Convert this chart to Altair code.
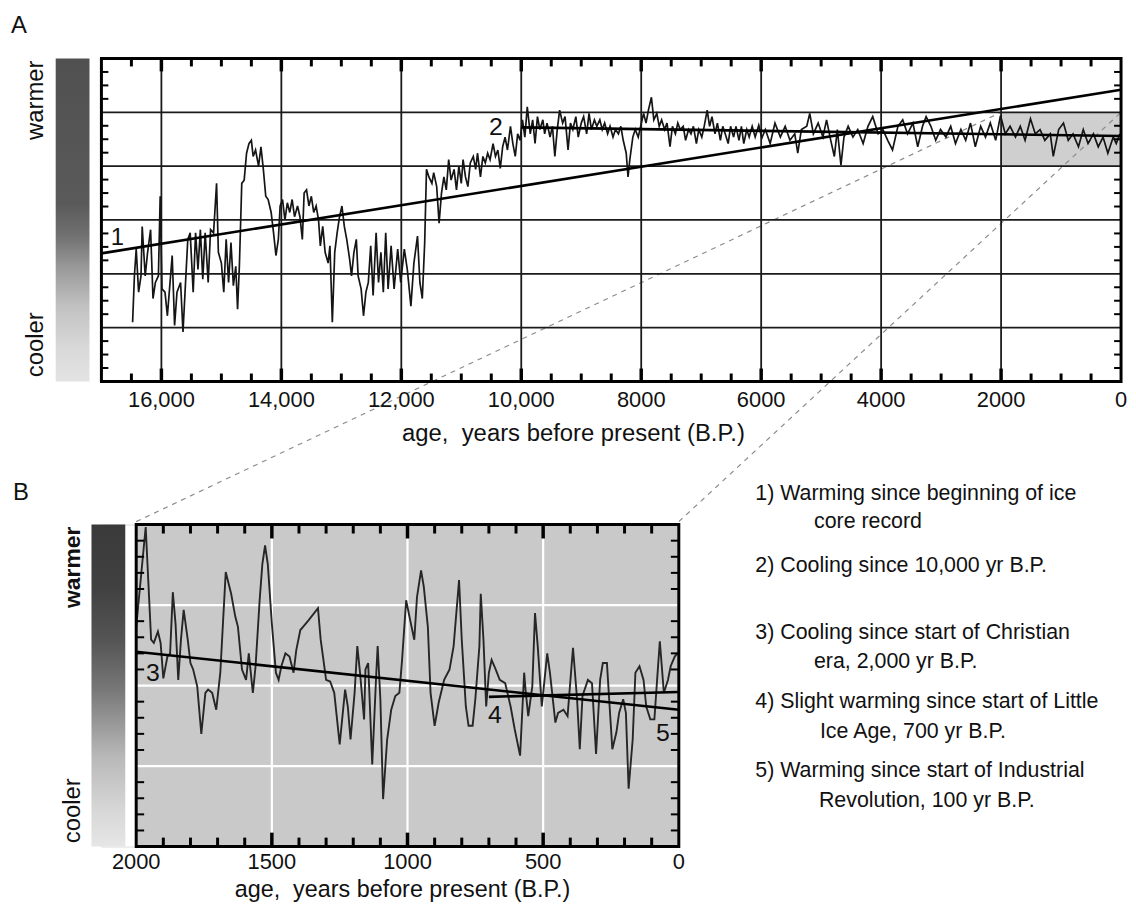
import altair as alt
import pandas as pd
import numpy as np

# ---------------- Panel A: ice-core temperature (deg C) vs age (yr B.P.) ----------------
a_age = [16480, 16450, 16420, 16380, 16340, 16320, 16270, 16230, 16180, 16140, 16100, 16050, 16020, 15990,
         15940, 15900, 15860, 15820, 15780, 15740, 15680, 15640, 15600, 15560, 15520, 15470, 15430, 15390,
         15350, 15310, 15270, 15220, 15180, 15130, 15080, 15050, 15000, 14960, 14920, 14880, 14840, 14800,
         14760, 14730, 14700, 14660, 14620, 14580, 14540, 14500, 14470, 14430, 14380, 14340, 14300, 14260,
         14220, 14170, 14130, 14090, 14050, 14020, 13980, 13940, 13900, 13860, 13820, 13780, 13730, 13690,
         13650, 13620, 13580, 13540, 13500, 13460, 13420, 13380, 13350, 13310, 13270, 13220, 13190, 13150,
         13110, 13070, 13030, 12990, 12950, 12910, 12860, 12830, 12790, 12750, 12720, 12670, 12630, 12590,
         12550, 12510, 12470, 12420, 12380, 12340, 12300, 12260, 12220, 12170, 12120,
         12060, 12010, 11950, 11900, 11840, 11790, 11730, 11690, 11650, 11610, 11580, 11540, 11490, 11460,
         11410, 11370, 11330, 11290, 11250, 11210, 11170, 11120, 11080, 11040, 11000, 10970, 10930, 10890,
         10850, 10800, 10760, 10730, 10680, 10640, 10600, 10560, 10520, 10470, 10430, 10390, 10350, 10310,
         10270, 10230, 10180, 10140, 10100, 10060, 10020, 9980, 9940, 9900, 9850, 9810, 9770, 9730, 9690,
         9640, 9610, 9570, 9520, 9480, 9440, 9400, 9360, 9310, 9270, 9220, 9180, 9140, 9090, 9050, 9000,
         8960, 8910, 8870, 8830, 8780, 8740, 8690, 8650, 8610, 8560, 8520, 8470, 8430, 8380, 8340, 8300,
         8250, 8220, 8190, 8140, 8100, 8050, 8010, 7960, 7920, 7880, 7830, 7790, 7740, 7700, 7660, 7610,
         7570, 7520, 7480, 7430, 7390, 7350, 7300, 7260, 7210, 7170, 7130, 7080, 7040, 6990, 6950, 6900,
         6860, 6820, 6770, 6730, 6680, 6640, 6600, 6550, 6510, 6460, 6420, 6370, 6330, 6290, 6240, 6200,
         6150, 6100, 6040, 5990,
         5930, 5850, 5770, 5680, 5600, 5520, 5440, 5390, 5330, 5240, 5190, 5130, 5050, 4970, 4910, 4840,
         4780, 4730, 4670, 4620, 4550, 4470, 4390, 4300, 4220, 4140, 4050, 3970, 3890, 3810, 3720, 3640,
         3560, 3470, 3390, 3310, 3250, 3170, 3090, 3010, 2920, 2840, 2760, 2670, 2590, 2510, 2430, 2340,
         2260, 2180, 2090, 2010, 1930, 1850, 1760, 1680, 1600, 1510, 1430, 1350, 1270, 1180, 1130, 1040,
         960, 880, 800, 710, 630, 550, 460, 380, 300, 220, 130, 80, 20]
a_temp = [-49.5, -45.2, -42.7, -46.7, -45.2, -40.6, -45.2, -43.0, -40.9, -47.3, -45.8, -45.2, -37.8, -46.4,
          -46.7, -48.9, -46.1, -43.3, -49.8, -46.7, -45.8, -50.4, -46.1, -41.8, -41.2, -46.7, -41.2, -44.6,
          -40.9, -45.5, -41.2, -45.8, -40.9, -41.2, -36.6, -43.0, -44.0, -46.7, -41.8, -45.8, -42.1, -46.1,
          -44.3, -48.3, -44.3, -36.6, -36.3, -33.8, -32.9, -32.6, -34.1, -33.5, -35.0, -33.2, -35.3, -37.8,
          -38.1, -39.3, -41.2, -43.3, -41.8, -38.7, -38.1, -40.0, -38.4, -39.3, -38.1, -39.7, -38.7, -39.7,
          -41.8, -37.5, -37.2, -38.7, -37.8, -39.3, -38.7, -40.0, -42.4, -40.6, -43.0, -44.0, -42.4, -49.5,
          -43.0, -41.2, -39.7, -38.7, -40.6, -41.8, -43.7, -45.2, -43.0, -41.8, -45.2, -46.4, -48.9, -46.7,
          -45.8, -42.4, -47.0, -41.2, -45.8, -43.0, -46.7, -41.2, -46.4, -42.4, -46.4,
          -42.7, -45.8, -42.7, -44.6, -48.0, -44.0, -41.5, -45.8, -47.3, -42.1, -35.3, -36.0, -36.6, -35.6,
          -36.9, -40.3, -37.5, -36.0, -37.2, -34.4, -36.3, -35.3, -37.2, -35.0, -36.6, -34.4, -36.0, -36.9,
          -34.7, -34.1, -35.3, -33.8, -36.0, -34.1, -34.7, -33.8, -34.4, -32.9, -34.1, -33.5, -35.2, -33.2,
          -32.3, -33.5, -31.3, -32.9, -34.1, -32.0, -32.6, -30.7, -32.3, -29.5, -32.0, -30.7, -32.9, -30.4, -31.6,
          -30.7, -32.0, -31.0, -32.3, -31.3, -34.1, -31.6, -29.8, -31.0, -30.4, -33.5, -31.0, -31.6, -30.4, -32.3, -31.0,
          -30.4, -32.0, -30.1, -31.6, -30.7, -31.3, -30.7, -31.6, -31.0, -32.0, -31.3, -32.3, -31.6, -32.0, -31.3, -32.6,
          -33.8, -36.0, -34.4, -32.3, -31.6, -32.3, -31.3, -30.1, -31.0, -29.8, -28.6, -30.7, -30.1, -31.3, -30.7, -31.6,
          -31.0, -33.2, -31.3, -32.0, -31.0, -31.6, -31.3, -32.6, -31.6, -32.0, -31.3, -32.9, -31.6, -32.3, -31.3, -29.8,
          -31.3, -30.4, -32.0, -31.0, -32.6, -31.3, -32.0, -32.9, -31.3, -32.3, -31.3, -32.6, -31.3, -32.9, -31.6, -32.3,
          -31.3, -32.3, -31.2, -32.4,
          -31.6, -32.9, -31.0, -32.3, -31.3, -32.6, -32.0, -33.8, -31.6, -31.3, -30.1, -32.0, -31.0, -32.3, -30.7, -32.6,
          -34.1, -31.6, -34.9, -32.3, -31.3, -32.3, -31.6, -32.9, -31.3, -30.4, -32.0, -31.6, -32.6, -33.5, -31.3, -30.7,
          -32.0, -31.0, -33.2, -31.3, -30.4, -31.3, -32.6, -31.6, -32.3, -31.3, -32.9, -31.6, -32.6, -31.0, -33.2, -31.3,
          -32.3, -31.0, -32.6, -30.3, -32.0, -31.3, -32.3, -31.3, -32.6, -30.6, -32.0, -31.6, -32.6, -32.0, -34.1, -31.6,
          -31.0, -32.6, -32.0, -33.2, -31.6, -32.9, -32.0, -33.2, -32.3, -33.8, -32.3, -32.9, -32.0]

trend1_age = [17000, 0]        # 1) warming since beginning of record
trend1_temp = [-43.1, -27.9]
trend2_age = [10000, 0]        # 2) cooling since 10,000 yr B.P.
trend2_temp = [-31.4, -32.2]

a_xlabels = [16000, 14000, 12000, 10000, 8000, 6000, 4000, 2000, 0]
a_xlabel_text = ["16,000", "14,000", "12,000", "10,000", "8000", "6000", "4000", "2000", "0"]
a_grid_x = [16000, 14000, 12000, 10000, 8000, 6000, 4000, 2000]
a_grid_y = [-50, -45, -40, -35, -30]
a_tick_minor_x = [v for v in range(500, 17000, 500) if v % 2000]
a_tick_y = [v for v in np.arange(-53.75, -25.0, 1.25) if v % 5]
zoom_box = {"x": [2000], "x2": [0], "y": [-35], "y2": [-30]}

# ---------------- Panel B: last 2000 years ----------------
b_age = [2000, 1965, 1945, 1935, 1920, 1910, 1900, 1885, 1875, 1865, 1855, 1845, 1835, 1825, 1810, 1800,
         1790, 1775, 1760, 1745, 1735, 1720, 1705, 1690, 1670, 1650, 1635, 1625, 1610, 1595, 1585, 1570,
         1560, 1545, 1535, 1525, 1515, 1500, 1485, 1475, 1465, 1450, 1435, 1420, 1410, 1395, 1385, 1365,
         1330, 1320, 1300, 1285, 1270, 1250, 1230, 1220, 1210, 1195, 1185, 1175, 1160, 1155, 1145, 1130,
         1115, 1110, 1100, 1090, 1075, 1060, 1045, 1030, 1020, 1005, 990, 975, 965, 950, 940, 925, 915,
         900, 885, 865, 845, 830, 810, 800, 785, 775, 760, 750, 735, 730, 720, 710, 700, 690, 675, 660,
         640, 620, 605, 585, 570, 565, 555, 540, 530, 520, 505, 485, 475, 455, 445, 425, 410, 390, 375,
         365, 355, 335, 320, 305, 290, 280, 265, 255, 245, 230, 220, 205, 195, 185, 170, 160, 145, 130,
         120, 105, 90, 80, 70, 55, 40, 30, 15, 5]
b_temp = [-31.27, -30.03, -31.43, -31.47, -31.33, -31.47, -31.91, -31.64, -31.60, -30.84, -31.23, -31.93,
          -31.43, -31.06, -31.43, -31.72, -31.80, -32.01, -32.60, -32.09, -32.05, -32.09, -32.30, -31.84,
          -30.59, -30.86, -31.14, -31.27, -31.80, -31.93, -31.60, -32.09, -31.76, -30.94, -30.49, -30.26,
          -30.49, -31.23, -31.84, -31.93, -31.76, -31.60, -31.64, -31.84, -31.56, -31.31, -31.27, -31.19,
          -31.04, -31.43, -31.93, -31.95, -32.09, -32.73, -32.05, -32.26, -32.67, -32.09, -31.51, -31.84,
          -32.42, -31.80, -31.72, -32.98, -31.84, -31.51, -32.17, -33.41, -32.67, -32.30, -32.13, -32.09,
          -31.68, -30.94, -31.19, -31.43, -30.90, -30.57, -30.77, -31.27, -32.09, -32.50, -32.21, -31.93,
          -31.80, -31.51, -30.69, -31.43, -32.26, -32.50, -32.50, -32.17, -31.51, -30.86, -31.43, -32.26,
          -31.84, -31.68, -31.80, -31.93, -31.97, -32.26, -32.54, -32.87, -31.84, -32.05, -32.38, -32.01,
          -31.10, -31.51, -32.26, -31.60, -31.84, -32.46, -32.34, -32.30, -32.38, -31.53, -32.17, -32.79,
          -32.13, -31.93, -31.97, -32.85, -31.93, -31.72, -31.72, -32.26, -32.79, -32.58, -32.34, -32.17,
          -32.34, -33.28, -32.67, -31.84, -31.76, -31.93, -32.26, -32.42, -32.42, -31.93, -31.45, -32.09,
          -31.93, -31.76, -31.64, -31.60]

trend3_age = [2000, 0]         # 3) cooling since start of Christian era
trend3_temp = [-31.58, -32.30]
trend4_age = [700, 0]          # 4) slight warming since start of Little Ice Age
trend4_temp = [-32.14, -32.08]

b_xlabels = [2000, 1500, 1000, 500, 0]
b_xlabel_text = ["2000", "1500", "1000", "500", "0"]
b_grid_x = [1500, 1000, 500]
b_grid_y = [-33, -32, -31]
b_tick_minor_x = [v for v in range(100, 2000, 100) if v % 500]
b_tick_y = [round(v, 1) for v in np.arange(-33.8, -30.0, 0.2) if abs(v - round(v)) > 0.05]

notes = [
    ("1) Warming since beginning of ice", 0, -31),
    ("core record", 59, -3),
    ("2) Cooling since 10,000 yr B.P.", 0, 42),
    ("3) Cooling since start of Christian", 0, 109),
    ("era, 2,000 yr B.P.", 59, 138),
    ("4) Slight warming since start of Little", 0, 179),
    ("Ice Age, 700 yr B.P.", 65, 209),
    ("5) Warming since start of Industrial", 0, 248),
    ("Revolution, 100 yr B.P.", 64, 278),
]
x_title = "age,\u00a0 years before present (B.P.)"

# ---------------- layout / style ----------------
FONT = "Liberation Sans, Arial, Helvetica, sans-serif"
INK = "#111111"
A_W, A_H = 1026, 325
B_W, B_H = 546, 324
GAP = 144
B_OFF = 35
NOTE_X = 623

xa = alt.Scale(domain=[0, 17000], reverse=True, nice=False, zero=False)
ya = alt.Scale(domain=[-55, -25], nice=False, zero=False)
xb = alt.Scale(domain=[0, 2000], reverse=True, nice=False, zero=False)
yb = alt.Scale(domain=[-34, -30], nice=False, zero=False)

one = pd.DataFrame({"a": [0]})


def ptext(txt, x, y, size, font=FONT, angle=0, weight="normal", align="center"):
    return alt.Chart(pd.DataFrame({"t": [txt]})).mark_text(
        fontSize=size, font=font, angle=angle, fontWeight=weight, align=align,
        baseline="middle", color=INK).encode(x=alt.value(x), y=alt.value(y), text="t:N")


def dtext(txt, xv, yv, xs, ys, size):
    return alt.Chart(pd.DataFrame({"t": [txt], "x": [xv], "y": [yv]})).mark_text(
        fontSize=size, font=FONT, align="center", baseline="middle", color=INK).encode(
        x=alt.X("x:Q", scale=xs, axis=None), y=alt.Y("y:Q", scale=ys, axis=None), text="t:N")


def xlabels(vals, texts, xs, y, size):
    df = pd.DataFrame({"v": vals, "t": texts})
    return alt.Chart(df).mark_text(font=FONT, fontSize=size, color=INK, align="center",
                                   baseline="middle").encode(
        x=alt.X("v:Q", scale=xs, axis=None), y=alt.value(y), text="t:N")


def gbar(x0, x1, stops):
    grad = {"gradient": "linear", "x1": 0, "y1": 0, "x2": 0, "y2": 1,
            "stops": [{"offset": o, "color": c} for o, c in stops]}
    return alt.Chart(one).mark_rect(fill=grad).encode(
        x=alt.value(x0), x2=alt.value(x1), y=alt.value(0), y2=alt.value("height"))


def vrules(vals, xs, color, width):
    return alt.Chart(pd.DataFrame({"v": vals})).mark_rule(color=color, strokeWidth=width).encode(
        x=alt.X("v:Q", scale=xs, axis=None))


def hrules(vals, ys, color, width):
    return alt.Chart(pd.DataFrame({"v": vals})).mark_rule(color=color, strokeWidth=width).encode(
        y=alt.Y("v:Q", scale=ys, axis=None))


def xticks(vals, xs, h, length, width):
    df = pd.DataFrame({"v": vals})
    top = alt.Chart(df).mark_rule(color="black", strokeWidth=width).encode(
        x=alt.X("v:Q", scale=xs, axis=None), y=alt.value(0), y2=alt.value(length))
    bot = alt.Chart(df).mark_rule(color="black", strokeWidth=width).encode(
        x=alt.X("v:Q", scale=xs, axis=None), y=alt.value(h - length), y2=alt.value(h))
    return [top, bot]


def yticks(vals, ys, w, length, width):
    df = pd.DataFrame({"v": vals})
    left = alt.Chart(df).mark_rule(color="black", strokeWidth=width).encode(
        y=alt.Y("v:Q", scale=ys, axis=None), x=alt.value(0), x2=alt.value(length))
    right = alt.Chart(df).mark_rule(color="black", strokeWidth=width).encode(
        y=alt.Y("v:Q", scale=ys, axis=None), x=alt.value(w - length), x2=alt.value(w))
    return [left, right]


def frame():
    return alt.Chart(one).mark_rect(fillOpacity=0, stroke="black", strokeWidth=3).encode(
        x=alt.value(0), x2=alt.value("width"), y=alt.value(0), y2=alt.value("height"))


def line(xv, yv, xs, ys, color, width):
    df = pd.DataFrame({"x": xv, "y": yv})
    return alt.Chart(df).mark_line(color=color, strokeWidth=width).encode(
        x=alt.X("x:Q", scale=xs, axis=None), y=alt.Y("y:Q", scale=ys, axis=None))


# connector (zoom) lines: top corners of the grey box -> top corners of panel B, in A's data units
def a_inv_x(px):
    return 17000 - px / A_W * 17000


def a_inv_y(py):
    return -25 - py / A_H * 30


B_TOP = A_H + GAP - 3   # measured offset of the lower row under the flush layout
conn = pd.DataFrame({
    "x": [2000, a_inv_x(B_OFF), 0, a_inv_x(B_OFF + B_W)],
    "y": [-30, a_inv_y(B_TOP), -30, a_inv_y(B_TOP)],
    "g": ["l", "l", "r", "r"],
})
connectors = alt.Chart(conn).mark_line(color="#8c8c8c", strokeWidth=1.2, strokeDash=[5, 5]).encode(
    x=alt.X("x:Q", scale=xa, axis=None), y=alt.Y("y:Q", scale=ya, axis=None), detail="g:N")

box = alt.Chart(pd.DataFrame(zoom_box)).mark_rect(color="#cfcfcf").encode(
    x=alt.X("x:Q", scale=xa, axis=None), x2="x2:Q",
    y=alt.Y("y:Q", scale=ya, axis=None), y2="y2:Q")

stops_a = [(0, "#505050"), (0.45, "#5a5a5a"), (0.55, "#717171"), (0.65, "#9a9a9a"),
           (0.77, "#c2c2c2"), (0.9, "#d9d9d9"), (1, "#e3e3e3")]
stops_b = [(0, "#3a3a3a"), (0.2, "#414141"), (0.36, "#555555"), (0.51, "#777777"),
           (0.62, "#999999"), (0.72, "#b8b8b8"), (0.875, "#d5d5d5"), (1, "#e6e6e6")]

panel_a = alt.layer(
    gbar(-46, -12, stops_a),
    box,
    connectors,
    vrules(a_grid_x, xa, "#1a1a1a", 1.8),
    hrules(a_grid_y, ya, "#1a1a1a", 1.8),
    line(a_age, a_temp, xa, ya, "#151515", 1.7),
    line(trend1_age, trend1_temp, xa, ya, "black", 2.6),
    line(trend2_age, trend2_temp, xa, ya, "black", 2.6),
    *xticks(a_tick_minor_x, xa, A_H, 8, 3),
    *xticks(a_grid_x, xa, A_H, 13, 3.5),
    *yticks(a_tick_y, ya, A_W, 7, 2),
    frame(),
    xlabels(a_xlabels, a_xlabel_text, xa, A_H + 19, 22),
    ptext(x_title, 475, A_H + 53, 24),
    ptext("A", -83, -33, 24),
    ptext("warmer", -66, 42, 24, angle=270),
    ptext("cooler", -66, 288, 24, angle=270),
    dtext("1", 16735, -41.7, xa, ya, 24),
    dtext("2", 10422, -31.4, xa, ya, 25),
).properties(width=A_W, height=A_H)

bg_b = alt.Chart(pd.DataFrame({"x": [2000], "x2": [0], "y": [-34], "y2": [-30]})).mark_rect(
    color="#c9c9c9").encode(x=alt.X("x:Q", scale=xb, axis=None), x2="x2:Q",
                            y=alt.Y("y:Q", scale=yb, axis=None), y2="y2:Q")

note_layers = [ptext(t, NOTE_X + dx, y, 21.5, align="left") for t, dx, y in notes]

panel_b = alt.layer(
    bg_b,
    gbar(-45, -11, stops_b),
    vrules(b_grid_x, xb, "white", 2.2),
    hrules(b_grid_y, yb, "white", 2.2),
    line(b_age, b_temp, xb, yb, "#262626", 1.9),
    line(trend3_age, trend3_temp, xb, yb, "black", 2.6),
    line(trend4_age, trend4_temp, xb, yb, "black", 2.6),
    *xticks(b_tick_minor_x, xb, B_H, 9, 3),
    *xticks(b_grid_x, xb, B_H, 14, 3.5),
    *yticks(b_tick_y, yb, B_W, 8, 2),
    frame(),
    xlabels(b_xlabels, b_xlabel_text, xb, B_H + 16, 22),
    ptext(x_title, 268, B_H + 44, 23.5),
    ptext("B", -116, -32, 24),
    ptext("warmer", -64, 43, 23, angle=270, weight="bold"),
    ptext("cooler", -64, 288, 24, angle=270),
    dtext("3", 1938, -31.84, xb, yb, 25),
    dtext("4", 678, -32.37, xb, yb, 25),
    dtext("5", 59, -32.59, xb, yb, 25),
    *note_layers,
).properties(width=B_W, height=B_H)

spacer = alt.Chart(one).mark_point(opacity=0).encode(
    x=alt.value(0), y=alt.value(0)).properties(width=B_OFF, height=B_H)

row = alt.hconcat(spacer, panel_b, spacing=0, bounds="flush")

chart = alt.vconcat(panel_a, row, spacing=GAP, bounds="flush").properties(
    padding={"left": 2, "top": 2, "right": 0, "bottom": 0}
).configure_view(strokeWidth=0).configure(background="white")

chart.save("out.html", embed_options={"renderer": "svg", "actions": False})
